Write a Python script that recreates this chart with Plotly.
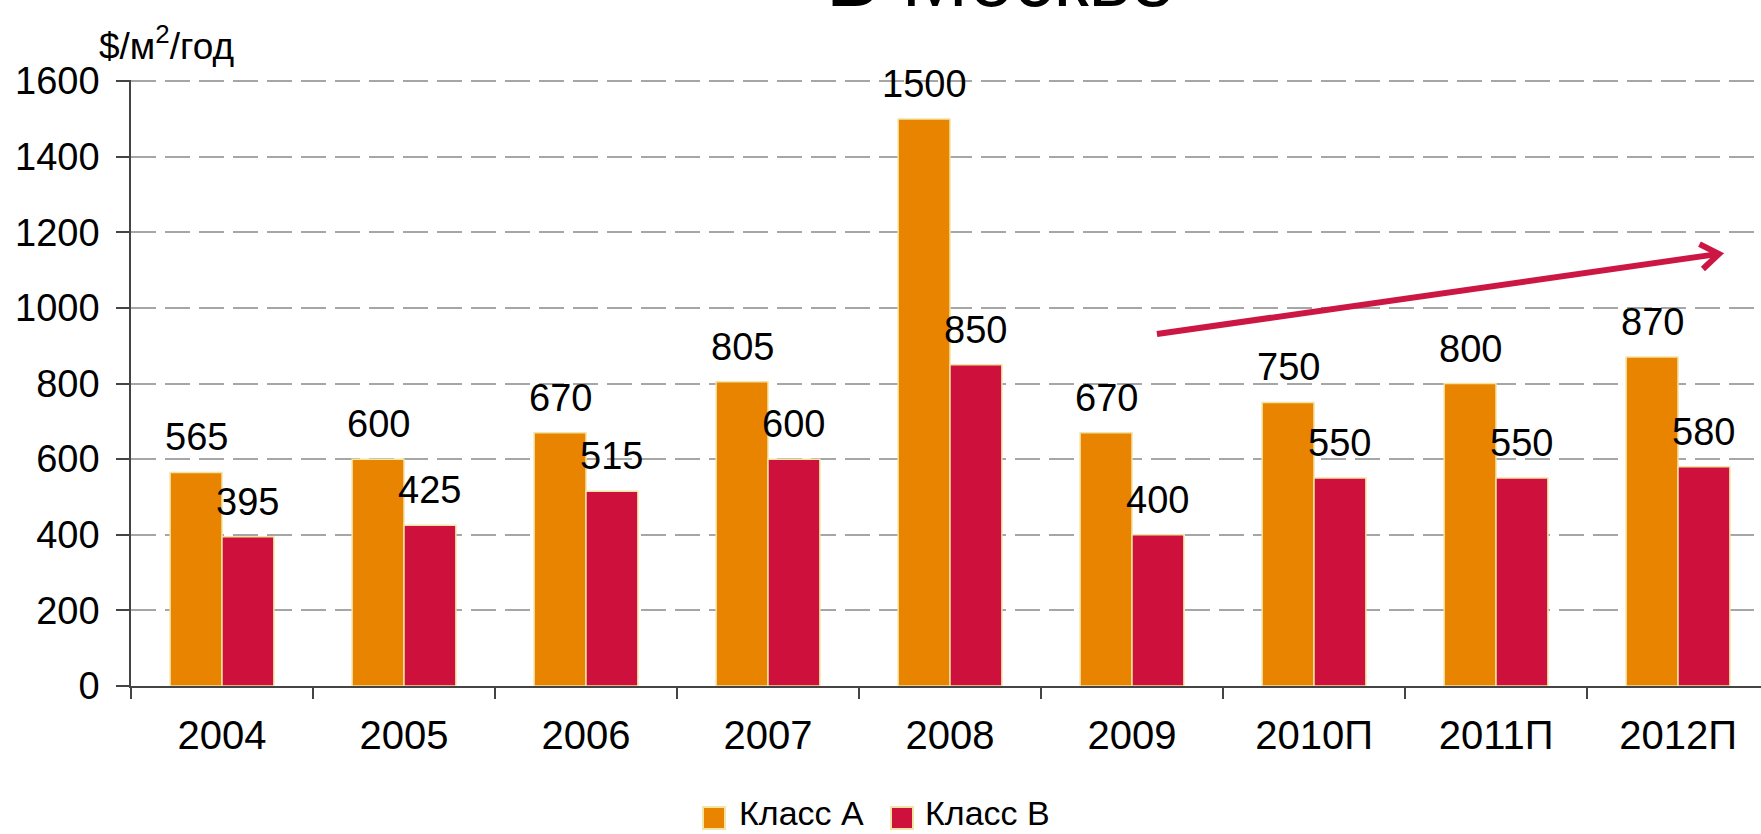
import plotly.graph_objects as go

# ---- data ----
years = ["2004", "2005", "2006", "2007", "2008", "2009", "2010П", "2011П", "2012П"]
class_a = [565, 600, 670, 805, 1500, 670, 750, 800, 870]
class_b = [395, 425, 515, 600, 850, 400, 550, 550, 580]
series_names = ["Класс А", "Класс В"]
y_ticks = [0, 200, 400, 600, 800, 1000, 1200, 1400, 1600]

# ---- style ----
W, H = 1761, 834
ML, MT, MB, MR = 131, 80, 148, 0
PW, PH = W - ML - MR, H - MT - MB
FONT = "Liberation Sans, Arial, sans-serif"
COL_A = "#E88400"
COL_B = "#CE113C"
EDGE = "#F1E4A4"
ARROW = "#CC1744"
BARGAP = 0.43
XMAX = 8.456

def px(xp):
    return (xp - ML) / PW

def py(yp):
    return (H - MB - yp) / PH

fig = go.Figure()
for name, vals, col in [(series_names[0], class_a, COL_A), (series_names[1], class_b, COL_B)]:
    fig.add_trace(go.Bar(
        x=years, y=vals, name=name,
        marker=dict(color=col, line=dict(color=EDGE, width=1.5)),
        showlegend=False,
    ))

cat_px = PW / (XMAX + 0.5)
bar_px = cat_px * (1 - BARGAP) / 2
annotations = []
for vals, sh in [(class_a, -bar_px / 2), (class_b, bar_px / 2)]:
    for i, v in enumerate(vals):
        annotations.append(dict(
            x=i, y=v, xref="x", yref="y", text=str(v), showarrow=False,
            xshift=sh, yshift=35, xanchor="center", yanchor="middle",
            font=dict(family=FONT, size=38, color="black"),
        ))

# axis unit label
annotations.append(dict(
    x=px(97), y=py(44), xref="paper", yref="paper", xanchor="left", yanchor="middle",
    text="$/м<sup>2</sup>/год", showarrow=False,
    font=dict(family=FONT, size=37, color="black"),
))
# cut-off title
annotations.append(dict(
    x=px(1000), y=py(-21), xref="paper", yref="paper", xanchor="center", yanchor="middle",
    text="В Москве", showarrow=False,
    font=dict(family=FONT, size=80, color="black"),
))

shapes = []
# trend arrow (category / value coordinates)
shapes.append(dict(type="line", xref="x", yref="y", x0=5.137, y0=931, x1=8.225, y1=1143,
                   line=dict(color=ARROW, width=6)))
shapes.append(dict(type="path", xref="x", yref="y",
                   path="M 8.118,1169 L 8.225,1143 L 8.137,1103",
                   line=dict(color=ARROW, width=6)))

# custom legend
legend_items = [(series_names[0], COL_A, 703, 737), (series_names[1], COL_B, 891, 923)]
for name, col, sx, tx in legend_items:
    shapes.append(dict(type="rect", xref="paper", yref="paper",
                       x0=px(sx), x1=px(sx + 22), y0=py(829), y1=py(807),
                       fillcolor=col, line=dict(color=EDGE, width=2)))
    annotations.append(dict(x=px(tx), y=py(834), xref="paper", yref="paper",
                            xanchor="left", yanchor="bottom", text=name, showarrow=False,
                            font=dict(family=FONT, size=34, color="black")))

fig.update_layout(
    width=W, height=H,
    margin=dict(l=ML, r=MR, t=MT, b=MB, pad=0),
    paper_bgcolor="white", plot_bgcolor="white",
    barmode="group", bargap=BARGAP, bargroupgap=0,
    font=dict(family=FONT, color="black"),
    annotations=annotations, shapes=shapes,
    xaxis=dict(
        type="category", range=[-0.5, XMAX],
        tickson="boundaries", ticks="outside", ticklen=11, tickwidth=1.5, tickcolor="#444",
        showline=True, linecolor="#444", linewidth=1.5,
        showgrid=False, tickfont=dict(family=FONT, size=40, color="black"),
        ticklabelstandoff=13,
    ),
    yaxis=dict(
        range=[0, 1603], tickvals=y_ticks,
        ticks="outside", ticklen=13, tickwidth=1.5, tickcolor="#444",
        showline=True, linecolor="#444", linewidth=1.5,
        showgrid=True, gridcolor="#A6A6A6", gridwidth=1.5, griddash="25px,9px",
        zeroline=False,
        tickfont=dict(family=FONT, size=38, color="black"),
        ticklabelstandoff=9,
    ),
)

fig.write_html("out.html")
